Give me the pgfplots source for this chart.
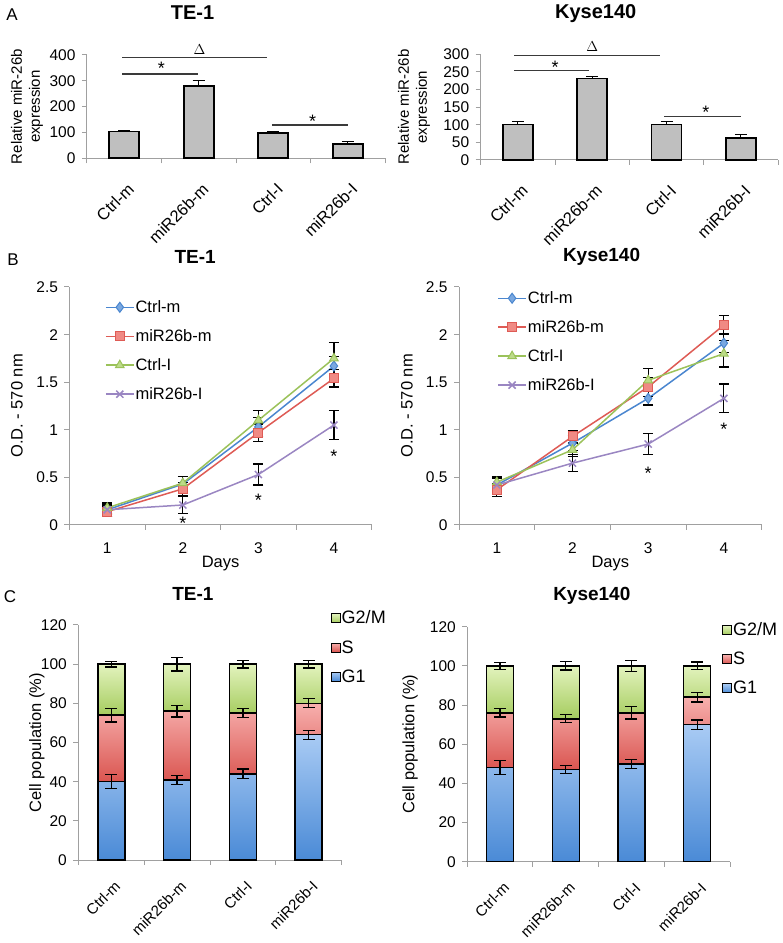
\documentclass[border=0pt]{standalone}
\usepackage{fontspec}
\setmainfont{Liberation Sans}
\usepackage{pgfplots}
\pgfplotsset{compat=1.18}
\definecolor{axgray}{HTML}{A0A0A0}
\definecolor{bargray}{HTML}{BFBFBF}
\definecolor{anno}{HTML}{3A3A3A}
\definecolor{lblue}{HTML}{4A86CF}
\definecolor{lbluef}{HTML}{7AA8E0}
\definecolor{lred}{HTML}{DE5B55}
\definecolor{lredf}{HTML}{F08A84}
\definecolor{lgreen}{HTML}{9BC25A}
\definecolor{lgreenf}{HTML}{BCDB88}
\definecolor{lpurple}{HTML}{9A86C2}
\definecolor{gonet}{HTML}{A9CBF4}
\definecolor{goneb}{HTML}{4A8AD6}
\definecolor{gonem}{HTML}{6FA3E3}
\definecolor{sphaset}{HTML}{F7B0AE}
\definecolor{sphaseb}{HTML}{DA5550}
\definecolor{sphasem}{HTML}{E9807C}
\definecolor{gtwot}{HTML}{E3F3BE}
\definecolor{gtwob}{HTML}{A5CC5E}
\definecolor{gtwom}{HTML}{C4E08E}

\pgfplotsset{
  exbase/.style={
    scale only axis, anchor=south west, clip=false, enlargelimits=false,
    axis x line*=bottom, axis y line*=left,
    axis line style={draw=axgray, line width=1pt, -},
    tick style={draw=axgray, line width=1pt},
    tick align=outside, major tick length=5pt,
    /pgf/number format/assume math mode=true,
    tick label style={font=\fontsize{15.5}{18}\selectfont, black},
    yticklabel style={xshift=-3pt},
    label style={font=\fontsize{16.5}{19}\selectfont},
    title style={font=\bfseries\fontsize{19}{22}\selectfont, anchor=center, yshift=0pt},
    ylabel style={anchor=center},
    xlabel style={anchor=center},
  },
  catx/.style n args={2}{
    xmin=-0.5, xmax=3.5,
    xtick={-0.5,0.5,1.5,2.5,3.5}, xticklabels={},
    xticklabel shift=#2,
    extra x ticks={0,1,2,3},
    extra x tick labels={Ctrl-m,miR26b-m,Ctrl-I,miR26b-I},
    extra x tick style={major tick length=0pt,
      xticklabel style={rotate=45, anchor=north east, font=\fontsize{#1}{18}\selectfont, xshift=-4.5pt, yshift=-7.9pt}},
  },
  daysx/.style={
    xmin=0.5, xmax=4.5,
    xtick={0.5,1.5,2.5,3.5,4.5}, xticklabels={},
    extra x ticks={1,2,3,4},
    extra x tick labels={1,2,3,4},
    extra x tick style={major tick length=0pt, xticklabel style={yshift=-14pt}},
    ymin=0, ymax=2.5, ytick={0,0.5,1,1.5,2,2.5},
    xlabel={Days}, ylabel={O.D. - 570 nm},
    legend style={draw=none, fill=none, anchor=north west,
      font=\fontsize{16.5}{19}\selectfont, row sep=13.5pt, inner sep=0pt,
      nodes={inner sep=1pt}, cells={anchor=west}},
    legend image code/.code={\draw[mark repeat=2,mark phase=2,#1] plot coordinates {(0pt,0pt) (14pt,0pt) (28pt,0pt)};},
  },
  eb/.style={error bars/.cd, y dir=both, y explicit,
    error bar style={black, line width=1.2pt, solid},
    error mark options={rotate=90, black, line width=1.2pt, mark size=5pt, solid}},
  ctrlm/.style={color=lblue, line width=1.5pt, mark=diamond*, mark size=5pt, mark options={fill=lbluef, draw=lblue, line width=1pt}},
  mirm/.style={color=lred, line width=1.5pt, mark=square*, mark size=4.5pt, mark options={fill=lredf, draw=lred, line width=1pt}},
  ctrli/.style={color=lgreen, line width=1.5pt, mark=triangle*, mark size=5pt, mark options={fill=lgreenf, draw=lgreen, line width=1pt}},
  miri/.style={color=lpurple, line width=1.5pt, mark=x, mark size=5pt, mark options={draw=lpurple, line width=1.5pt}},
  stackC/.style={
    ybar stacked, bar width=27pt,
    ymin=0, ymax=120, ytick={0,20,40,60,80,100,120},
    ylabel={Cell population (\%)},
    reverse legend,
    legend style={draw=none, fill=none, anchor=north west,
      font=\fontsize{18}{21}\selectfont, row sep=13pt, inner sep=0pt,
      nodes={inner sep=1pt}, cells={anchor=west}},
  },
  cbar/.style={draw=black, line width=1.6pt, error bars/.cd, y dir=both, y explicit,
    error bar style={black, line width=1.3pt},
    error mark options={rotate=90, black, line width=1.3pt, mark size=6pt}},
  abar/.style={ybar, bar width=30pt, fill=bargray, draw=black, line width=1.6pt,
    error bars/.cd, y dir=plus, y explicit,
    error bar style={black, line width=1.2pt},
    error mark options={rotate=90, black, line width=1.2pt, mark size=6pt}},
}
\newcommand{\dlt}{\fontsize{15}{15}\selectfont$\Delta$}
\tikzset{star/.style={font=\fontsize{18}{18}\selectfont, yshift=-3.8pt, inner sep=0pt}}

\begin{document}
\begin{tikzpicture}
\path[use as bounding box] (0pt,0pt) rectangle (783pt,943pt);
\node[font=\fontsize{17}{20}\selectfont] at (12pt,928pt) {A};
\node[font=\fontsize{17}{20}\selectfont] at (13pt,683pt) {B};
\node[font=\fontsize{17}{20}\selectfont] at (10pt,346pt) {C};

% ---------------- Panel A left
\begin{axis}[exbase, catx={16.5}{10pt}, at={(87pt,784.7pt)}, width=298pt, height=103.3pt,
  ymin=0, ymax=400, ytick={0,100,200,300,400},
  ylabel={Relative miR-26b\\expression},
  ylabel style={align=center, font=\fontsize{15}{18}\selectfont, at={(axis description cs:-0.201,0.5)}},
  title={TE-1}, title style={at={(axis description cs:0.354,1.348)}, font=\bfseries\fontsize{20}{22}\selectfont}]
\addplot[abar] coordinates {(0,103) +- (0,4) (1,280) +- (0,21) (2,98) +- (0,4) (3,55) +- (0,11)};
\draw[anno, line width=1.4pt] (axis cs:-0.03,390) -- (axis cs:1.91,390);
\draw[anno, line width=1.4pt] (axis cs:-0.03,327) -- (axis cs:0.99,327);
\draw[anno, line width=1.4pt] (axis cs:1.98,129) -- (axis cs:3.0,129);
\node at (axis cs:1.01,420) {\dlt};
\node[star] at (axis cs:0.5,362) {*};
\node[star] at (axis cs:2.53,156) {*};
\end{axis}

% ---------------- Panel A right
\begin{axis}[exbase, catx={16.5}{10pt}, at={(480.7pt,783pt)}, width=297.3pt, height=105.7pt,
  ymin=0, ymax=300, ytick={0,50,100,150,200,250,300},
  ylabel={Relative miR-26b\\expression},
  ylabel style={align=center, font=\fontsize{15}{18}\selectfont, at={(axis description cs:-0.224,0.5)}},
  title={Kyse140}, title style={at={(axis description cs:0.387,1.324)}, font=\bfseries\fontsize{20}{22}\selectfont}]
\addplot[abar] coordinates {(0,101) +- (0,8) (1,231) +- (0,7) (2,101) +- (0,8) (3,62) +- (0,11)};
\draw[anno, line width=1.4pt] (axis cs:-0.05,296) -- (axis cs:1.91,296);
\draw[anno, line width=1.4pt] (axis cs:-0.05,254) -- (axis cs:0.96,254);
\draw[anno, line width=1.4pt] (axis cs:1.97,123) -- (axis cs:3.0,123);
\node at (axis cs:1.0,322) {\dlt};
\node[star] at (axis cs:0.5,275) {*};
\node[star] at (axis cs:2.53,145) {*};
\end{axis}

% ---------------- Panel B left
\begin{axis}[exbase, daysx, at={(69.5pt,418pt)}, width=302.2pt, height=238pt,
  xlabel style={at={(axis description cs:0.5,-0.16)}},
  ylabel style={at={(axis description cs:-0.174,0.5)}},
  title={TE-1}, title style={at={(axis description cs:0.416,1.10)}},
  legend style={at={(axis description cs:0.117,0.948)}}]
\addplot[ctrlm, eb] coordinates {(1,0.16) +- (0,0.07) (2,0.43) +- (0,0.08) (3,1.03) +- (0,0.10) (4,1.67) +- (0,0.10)};
\addlegendentry{Ctrl-m}
\addplot[mirm, eb] coordinates {(1,0.14) +- (0,0.05) (2,0.38) +- (0,0.07) (3,0.97) +- (0,0.09) (4,1.54) +- (0,0.09)};
\addlegendentry{miR26b-m}
\addplot[ctrli, eb] coordinates {(1,0.18) +- (0,0.06) (2,0.44) +- (0,0.07) (3,1.10) +- (0,0.10) (4,1.75) +- (0,0.17)};
\addlegendentry{Ctrl-I}
\addplot[miri, eb] coordinates {(1,0.16) +- (0,0.05) (2,0.21) +- (0,0.09) (3,0.53) +- (0,0.11) (4,1.05) +- (0,0.15)};
\addlegendentry{miR26b-I}
\node[star] at (axis cs:2,0.06) {*};
\node[star] at (axis cs:3,0.30) {*};
\node[star] at (axis cs:4,0.76) {*};
\end{axis}

% ---------------- Panel B right
\begin{axis}[exbase, daysx, at={(459pt,418pt)}, width=302.7pt, height=238pt,
  xlabel style={at={(axis description cs:0.5,-0.16)}},
  ylabel style={at={(axis description cs:-0.172,0.5)}},
  title={Kyse140}, title style={at={(axis description cs:0.471,1.10)}},
  legend style={at={(axis description cs:0.126,0.986)}}]
\addplot[ctrlm, eb] coordinates {(1,0.42) +- (0,0.08) (2,0.86) +- (0,0.08) (3,1.33) +- (0,0.07) (4,1.91) +- (0,0.10)};
\addlegendentry{Ctrl-m}
\addplot[mirm, eb] coordinates {(1,0.37) +- (0,0.07) (2,0.93) +- (0,0.06) (3,1.45) +- (0,0.10) (4,2.10) +- (0,0.10)};
\addlegendentry{miR26b-m}
\addplot[ctrli, eb] coordinates {(1,0.45) +- (0,0.06) (2,0.79) +- (0,0.07) (3,1.52) +- (0,0.12) (4,1.80) +- (0,0.14)};
\addlegendentry{Ctrl-I}
\addplot[miri, eb] coordinates {(1,0.42) +- (0,0.07) (2,0.65) +- (0,0.09) (3,0.85) +- (0,0.11) (4,1.33) +- (0,0.15)};
\addlegendentry{miR26b-I}
\node[star] at (axis cs:3,0.58) {*};
\node[star] at (axis cs:4,1.05) {*};
\end{axis}

% ---------------- Panel C left
\begin{axis}[exbase, catx={15}{6pt}, stackC, at={(78.3pt,83pt)}, width=263.4pt, height=235pt,
  ylabel style={at={(axis description cs:-0.157,0.5)}},
  title={TE-1}, title style={at={(axis description cs:0.435,1.106)}},
  legend style={at={(axis description cs:0.958,1.065)}}]
\addplot[top color=gonet, bottom color=goneb, cbar,
  /pgfplots/legend image code/.code={\draw[draw=black, line width=0.9pt, fill=gonem] (0pt,-4.5pt) rectangle (9pt,4.5pt);}]
  coordinates {(0,40) +- (0,3.5) (1,41) +- (0,2.3) (2,44) +- (0,2.4) (3,64) +- (0,2.3)};
\addlegendentry{G1}
\addplot[top color=sphaset, bottom color=sphaseb, cbar,
  /pgfplots/legend image code/.code={\draw[draw=black, line width=0.9pt, fill=sphasem] (0pt,-4.5pt) rectangle (9pt,4.5pt);}]
  coordinates {(0,34) +- (0,3.5) (1,35) +- (0,3) (2,31) +- (0,2.3) (3,16) +- (0,2.3)};
\addlegendentry{S}
\addplot[top color=gtwot, bottom color=gtwob, cbar,
  /pgfplots/legend image code/.code={\draw[draw=black, line width=0.9pt, fill=gtwom] (0pt,-4.5pt) rectangle (9pt,4.5pt);}]
  coordinates {(0,26) +- (0,1.4) (1,24) +- (0,3.5) (2,25) +- (0,1.9) (3,20) +- (0,1.9)};
\addlegendentry{G2/M}
\node at (axis cs:1,33.2) {\dlt};
\node at (axis cs:2,34.9) {\dlt};
\node[star] at (axis cs:3,57) {*};
\end{axis}

% ---------------- Panel C right
\begin{axis}[exbase, catx={15}{6pt}, stackC, at={(467.3pt,81.3pt)}, width=262.7pt, height=235pt,
  ylabel style={at={(axis description cs:-0.218,0.5)}},
  title={Kyse140}, title style={at={(axis description cs:0.474,1.106)}},
  legend style={at={(axis description cs:0.970,1.022)}}]
\addplot[top color=gonet, bottom color=goneb, cbar,
  /pgfplots/legend image code/.code={\draw[draw=black, line width=0.9pt, fill=gonem] (0pt,-4.5pt) rectangle (9pt,4.5pt);}]
  coordinates {(0,48) +- (0,3.5) (1,47) +- (0,2.1) (2,50) +- (0,2.3) (3,70) +- (0,2.4)};
\addlegendentry{G1}
\addplot[top color=sphaset, bottom color=sphaseb, cbar,
  /pgfplots/legend image code/.code={\draw[draw=black, line width=0.9pt, fill=sphasem] (0pt,-4.5pt) rectangle (9pt,4.5pt);}]
  coordinates {(0,28) +- (0,2.1) (1,26) +- (0,2) (2,26) +- (0,3.2) (3,14) +- (0,2.5)};
\addlegendentry{S}
\addplot[top color=gtwot, bottom color=gtwob, cbar,
  /pgfplots/legend image code/.code={\draw[draw=black, line width=0.9pt, fill=gtwom] (0pt,-4.5pt) rectangle (9pt,4.5pt);}]
  coordinates {(0,24) +- (0,1.7) (1,27) +- (0,2.1) (2,24) +- (0,2.7) (3,16) +- (0,2)};
\addlegendentry{G2/M}
\node at (axis cs:1,37.5) {\dlt};
\node at (axis cs:2,40.9) {\dlt};
\node[star] at (axis cs:3,62.2) {*};
\end{axis}
\end{tikzpicture}
\end{document}
